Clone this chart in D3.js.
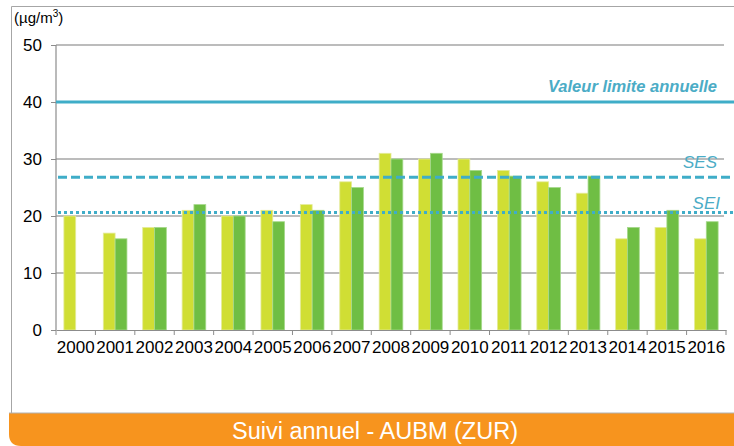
<!DOCTYPE html>
<html>
<head>
<meta charset="utf-8">
<script src="https://cdn.jsdelivr.net/npm/d3@7/dist/d3.min.js"></script>
<style>
  body { margin: 0; background: #fff; }
  svg { display: block; font-family: "Liberation Sans", Arial, sans-serif; }
</style>
</head>
<body>
<svg id="chart" width="734" height="446"></svg>
<script>
// data
var years = ["2000","2001","2002","2003","2004","2005","2006","2007","2008","2009","2010","2011","2012","2013","2014","2015","2016"];
var serieLight = [20,17,18,21,20,21,22,26,31,30,30,28,26,24,16,18,16];
var serieDark  = [null,16,18,22,20,19,21,25,30,31,28,27,25,27,18,21,19];
var yTicks = [0,10,20,30,40,50];
var limitValue = 40;   // Valeur limite annuelle
var sesValue = 26.8;   // SES
var seiValue = 20.6;   // SEI

var svg = d3.select("#chart");

// outer frame
svg.append("path")
    .attr("d", "M11.5,413 L11.5,6.5 L740,6.5")
    .attr("fill", "none")
    .attr("stroke", "#a6a6a6")
    .attr("stroke-width", 1);

var margin = {top: 45, left: 56, right: 8, bottom: 116};
var width = 734 - margin.left - margin.right,
    height = 446 - margin.top - margin.bottom;

var g = svg.append("g")
    .attr("transform", "translate(" + margin.left + "," + margin.top + ")");

var x0 = d3.scaleBand().domain(years).range([0, width]);
var x1 = d3.scaleBand().domain(["light","dark"])
    .range([0, x0.bandwidth() * 0.6]);
var y = d3.scaleLinear().domain([0, 50]).range([height, 0]);

// gridlines
g.selectAll(".grid").data(yTicks.filter(function(d){ return d > 0; }))
  .enter().append("line")
    .attr("x1", 0).attr("x2", width - 2)
    .attr("y1", function(d){ return y(d); })
    .attr("y2", function(d){ return y(d); })
    .attr("stroke", "#a6a6a6")
    .attr("stroke-width", 1.5);

// bars
var groups = g.selectAll(".yr").data(years)
  .enter().append("g")
    .attr("transform", function(d){ return "translate(" + (x0(d) + x0.bandwidth() * 0.2) + ",0)"; });

groups.append("rect")
    .attr("x", x1("light"))
    .attr("width", x1.bandwidth())
    .attr("y", function(d, i){ return y(serieLight[i]); })
    .attr("height", function(d, i){ return height - y(serieLight[i]); })
    .attr("fill", "#d0de34")
    .attr("stroke", "#e4eb9a")
    .attr("stroke-width", 0.8);

groups.filter(function(d, i){ return serieDark[i] != null; })
  .append("rect")
    .attr("x", x1("dark"))
    .attr("width", x1.bandwidth())
    .attr("y", function(d){ return y(serieDark[years.indexOf(d)]); })
    .attr("height", function(d){ return height - y(serieDark[years.indexOf(d)]); })
    .attr("fill", "#6fbe44")
    .attr("stroke", "#a6d98c")
    .attr("stroke-width", 0.8);

// axes
var yAxis = d3.axisLeft(y).tickValues(yTicks).tickSize(5).tickPadding(9);
var ya = g.append("g").call(yAxis);
ya.select(".domain").attr("stroke", "#8c8c8c").attr("stroke-width", 1.2).attr("d", "M0," + height + "V0");
ya.selectAll(".tick line").attr("stroke", "#8c8c8c");
ya.selectAll(".tick text").attr("font-size", "17px").attr("fill", "#000")
  .attr("font-family", "Liberation Sans, Arial, sans-serif");

var xa = g.append("g").attr("transform", "translate(0," + height + ")")
    .call(d3.axisBottom(x0).tickSize(0).tickPadding(11));
xa.select(".domain").attr("stroke", "#8c8c8c").attr("stroke-width", 1.2);
xa.selectAll(".tick text").attr("font-size", "17px").attr("fill", "#000")
  .attr("font-family", "Liberation Sans, Arial, sans-serif");
g.selectAll(".xtick").data(years.concat(["end"]))
  .enter().append("line")
    .attr("x1", function(d, i){ return i * x0.step(); })
    .attr("x2", function(d, i){ return i * x0.step(); })
    .attr("y1", height).attr("y2", height + 5)
    .attr("stroke", "#8c8c8c");

// threshold lines
var lineColor = "#3fadc8";
g.append("line").attr("x1", 0).attr("x2", width + 8)
    .attr("y1", y(limitValue)).attr("y2", y(limitValue))
    .attr("stroke", lineColor).attr("stroke-width", 3);
g.append("line").attr("x1", 2).attr("x2", width + 8)
    .attr("y1", y(sesValue)).attr("y2", y(sesValue))
    .attr("stroke", lineColor).attr("stroke-width", 3)
    .attr("stroke-dasharray", "9,4");
g.append("line").attr("x1", 2).attr("x2", width + 8)
    .attr("y1", y(seiValue)).attr("y2", y(seiValue))
    .attr("stroke", lineColor).attr("stroke-width", 3)
    .attr("stroke-dasharray", "3,3");

g.append("text").attr("x", 661).attr("y", y(limitValue) - 10)
    .attr("text-anchor", "end").attr("font-size", "16.5px")
    .attr("font-weight", "bold").attr("font-style", "italic")
    .attr("fill", "#4bacc6").text("Valeur limite annuelle");
g.append("text").attr("x", 661).attr("y", y(sesValue) - 9)
    .attr("text-anchor", "end").attr("font-size", "17px")
    .attr("font-style", "italic").attr("fill", "#4bacc6").text("SES");
g.append("text").attr("x", 664).attr("y", y(seiValue) - 4)
    .attr("text-anchor", "end").attr("font-size", "17px")
    .attr("font-style", "italic").attr("fill", "#4bacc6").text("SEI");

// unit label
var unit = svg.append("text").attr("x", 14).attr("y", 23)
    .attr("font-size", "15px").attr("fill", "#000");
unit.append("tspan").text("(µg/m");
unit.append("tspan").attr("font-size", "10px").attr("dy", -6).text("3");
unit.append("tspan").attr("dy", 6).text(")");

// footer banner
svg.append("path")
    .attr("d", "M9,413 H734 V446 H21 Q9,446 9,434 Z")
    .attr("fill", "#f7941e");
svg.append("line").attr("x1", 9).attr("x2", 734).attr("y1", 413).attr("y2", 413)
    .attr("stroke", "#b0b0b0").attr("stroke-width", 1);
svg.append("text").attr("x", 375).attr("y", 439)
    .attr("text-anchor", "middle").attr("font-size", "23.5px")
    .attr("fill", "#fff").text("Suivi annuel - AUBM (ZUR)");
</script>
</body>
</html>
